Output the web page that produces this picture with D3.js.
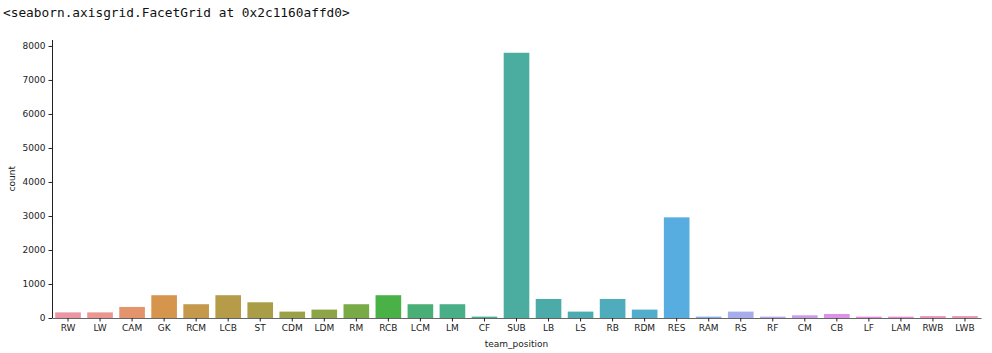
<!DOCTYPE html>
<html>
<head>
<meta charset="utf-8">
<title>team_position count</title>
<script src="https://cdn.jsdelivr.net/npm/d3@7"></script>
<style>
  body { margin: 0; background: #fff; }
  .out { font-family: "DejaVu Sans Mono", monospace; font-size: 12.8px; fill: #111; }
  .axis text { font-family: "DejaVu Sans", sans-serif; font-size: 9px; fill: #222; }
  .axis line { stroke: #222; }
  .label { font-family: "DejaVu Sans", sans-serif; font-size: 9px; fill: #222; }
</style>
</head>
<body>
<div id="chart"></div>
<script>
// counts per team_position
var positions = ["RW", "LW", "CAM", "GK", "RCM", "LCB", "ST", "CDM", "LDM", "RM",
  "RCB", "LCM", "LM", "CF", "SUB", "LB", "LS", "RB", "RDM", "RES",
  "RAM", "RS", "RF", "CM", "CB", "LF", "LAM", "RWB", "LWB"];
var counts = [165, 165, 325, 670, 405, 670, 462, 188, 247, 405,
  670, 405, 405, 40, 7800, 560, 188, 560, 247, 2960,
  40, 188, 40, 80, 118, 40, 40, 55, 55];
var yTicks = [0, 1000, 2000, 3000, 4000, 5000, 6000, 7000, 8000];

var W = 992, H = 353;
var plotLeft = 52, plotRight = 981, plotTop = 39.5, plotBottom = 318;

// seaborn husl palette (l=.7) desaturated to .75
var M = [[3.2406, -1.5372, -0.4986], [-0.9689, 1.8758, 0.0415], [0.0557, -0.2040, 1.0570]];
function maxChroma(L, Hd) {
  var hr = Hd * Math.PI / 180, sinH = Math.sin(hr), cosH = Math.cos(hr);
  var sub1 = Math.pow(L + 16, 3) / 1560896;
  var sub2 = sub1 > 0.008856 ? sub1 : L / 903.3;
  var result = Infinity;
  M.forEach(function(m) {
    var tp = (0.99915 * m[0] + 1.05122 * m[1] + 1.14460 * m[2]) * sub2;
    var rb = 0.86330 * m[2] - 0.17266 * m[1];
    var lb = 0.12949 * m[2] - 0.38848 * m[0];
    var bot = (rb * sinH + lb * cosH) * sub2;
    [0, 1].forEach(function(t) {
      var C = L * (tp - 1.05122 * t) / (bot + 0.17266 * sinH * t);
      if (C > 0 && C < result) result = C;
    });
  });
  return result;
}
function huslToRgb(Hd, S, L) {
  var C = maxChroma(L, Hd) / 100 * S;
  var hr = Hd * Math.PI / 180;
  var U = Math.cos(hr) * C, V = Math.sin(hr) * C;
  var t = (L + 16) / 116;
  var Y = t * t * t > 0.008856 ? t * t * t : (116 * t - 16) / 903.3;
  var vu = U / (13 * L) + 0.19784, vv = V / (13 * L) + 0.46834;
  var X = -(9 * Y * vu) / ((vu - 4) * vv - vu * vv);
  var Z = (9 * Y - 15 * vv * Y - vv * X) / (3 * vv);
  return M.map(function(r) {
    var c = r[0] * X + r[1] * Y + r[2] * Z;
    var v = c <= 0.0031308 ? 12.92 * c : 1.055 * Math.pow(c, 1 / 2.4) - 0.055;
    return Math.min(1, Math.max(0, v));
  });
}
var colors = positions.map(function(d, i) {
  var h = ((i / positions.length + 0.01) % 1) * 359;
  var c = huslToRgb(h, 0.9 * 99, 0.7 * 99);
  var hsl = d3.hsl(d3.rgb(c[0] * 255, c[1] * 255, c[2] * 255));
  hsl.s *= 0.75;
  return hsl.formatHex();
});

var svg = d3.select("#chart").append("svg")
  .attr("width", W).attr("height", H);

svg.append("text").attr("class", "out")
  .attr("x", 3).attr("y", 17)
  .text("<seaborn.axisgrid.FacetGrid at 0x2c1160affd0>");

var x = d3.scaleBand().domain(positions)
  .range([plotLeft, plotRight]).paddingInner(0.2).paddingOuter(0.1);
var y = d3.scaleLinear().domain([0, d3.max(counts) * 1.05]).range([plotBottom, plotTop]);

svg.selectAll("rect.bar")
  .data(positions)
  .enter().append("rect")
  .attr("class", "bar")
  .attr("x", function(d) { return x(d); })
  .attr("width", x.bandwidth())
  .attr("y", function(d, i) { return y(counts[i]); })
  .attr("height", function(d, i) { return plotBottom - y(counts[i]); })
  .attr("fill", function(d, i) { return colors[i]; });

var yAxis = svg.append("g").attr("class", "axis")
  .attr("transform", "translate(" + plotLeft + ",0)")
  .call(d3.axisLeft(y).tickValues(yTicks).tickFormat(d3.format("d"))
    .tickSize(3.5).tickPadding(3).tickSizeOuter(0));
yAxis.select(".domain").attr("stroke", "#222").attr("stroke-width", 1);

var xAxis = svg.append("g").attr("class", "axis")
  .attr("transform", "translate(0," + plotBottom + ")")
  .call(d3.axisBottom(x).tickSize(3.5).tickPadding(3).tickSizeOuter(0));
xAxis.select(".domain").attr("stroke", "#666").attr("stroke-width", 1.2);

svg.append("text").attr("class", "label")
  .attr("x", (plotLeft + plotRight) / 2).attr("y", 347)
  .attr("text-anchor", "middle")
  .text("team_position");

svg.append("text").attr("class", "label")
  .attr("transform", "translate(15," + (plotTop + plotBottom) / 2 + ") rotate(-90)")
  .attr("text-anchor", "middle")
  .text("count");
</script>
</body>
</html>
